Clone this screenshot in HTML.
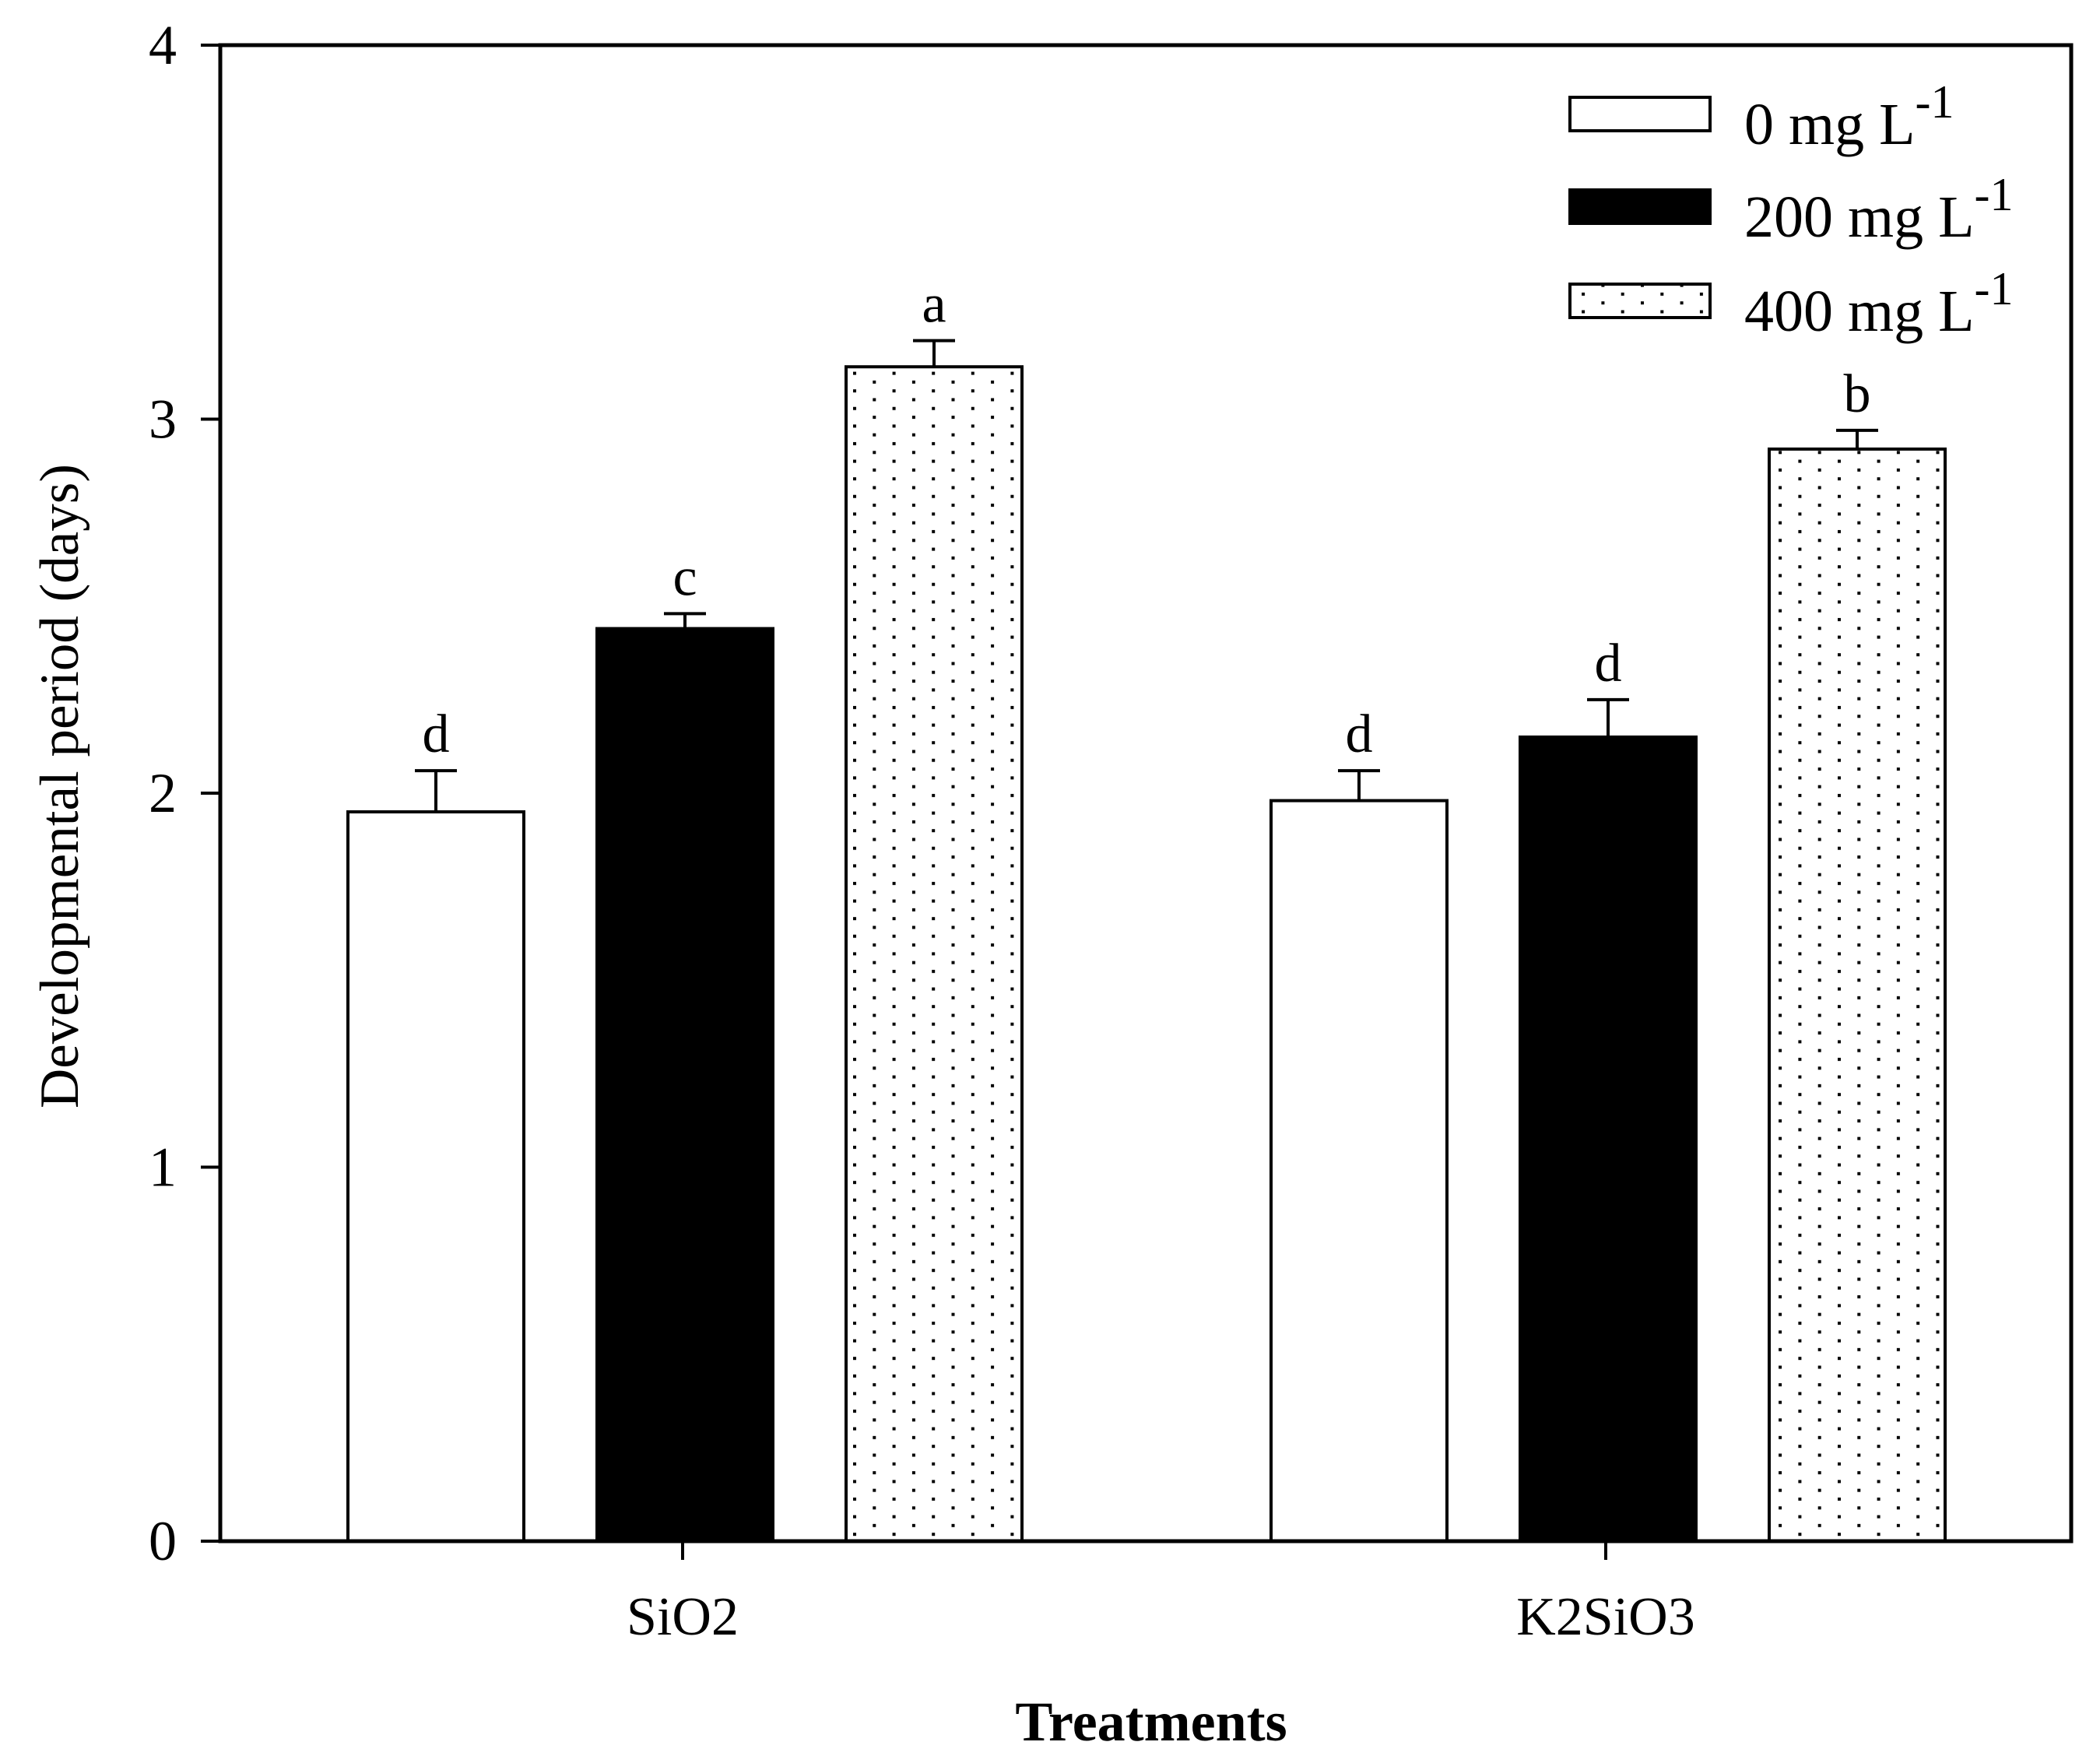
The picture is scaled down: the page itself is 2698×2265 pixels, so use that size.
<!DOCTYPE html>
<html><head><meta charset="utf-8">
<style>
html,body{margin:0;padding:0;background:#fff;}
svg{display:block;font-family:"Liberation Serif",serif;}
</style></head>
<body>
<svg id="chart" width="2698" height="2265" viewBox="0 0 2698 2265" xmlns="http://www.w3.org/2000/svg">
<defs>
<pattern id="dots" patternUnits="userSpaceOnUse" width="50.6" height="22.6" x="1096" y="0">
<rect x="0" y="0" width="50.6" height="22.6" fill="#fff"/>
<rect x="0" y="3" width="4" height="4" fill="#000"/>
<rect x="25.3" y="14.3" width="4" height="4" fill="#000"/>
</pattern>
</defs>
<g id="plot"></g>
</svg>
<script>
const categories = ["SiO2", "K2SiO3"];
const seriesNames = ["0 mg L", "200 mg L", "400 mg L"];
const values0 = [1.95, 1.98];
const values200 = [2.44, 2.15];
const values400 = [3.14, 2.92];
const err0 = [0.11, 0.08];
const err200 = [0.04, 0.10];
const err400 = [0.07, 0.05];
const letters0 = ["d", "d"];
const letters200 = ["c", "d"];
const letters400 = ["a", "b"];
const yTicks = [0, 1, 2, 3, 4];

const NS = "http://www.w3.org/2000/svg";
const g = document.getElementById("plot");
const L = 283, R = 2661, T = 58, B = 1980;
const yMin = 0, yMax = 4;
const groupCenters = [880, 2066];
const barW = 226, barStep = 320;
function y(v){ return B - (v - yMin) / (yMax - yMin) * (B - T); }
function xBar(gi, si){ return groupCenters[gi] + (si - 1) * barStep; }
function mk(tag, attrs, parent){
  const e = document.createElementNS(NS, tag);
  for (const k in attrs) e.setAttribute(k, attrs[k]);
  (parent || g).appendChild(e);
  return e;
}
const fills = ["#fff", "#000", "url(#dots)"];
const allVals = [values0, values200, values400];
const allErr = [err0, err200, err400];
const allLetters = [letters0, letters200, letters400];

for (let gi = 0; gi < categories.length; gi++) {
  for (let si = 0; si < 3; si++) {
    const v = allVals[si][gi], e = allErr[si][gi];
    const cx = xBar(gi, si);
    const bar = mk("rect", {x: cx - barW/2, y: y(v), width: barW, height: B - y(v), fill: fills[si], stroke: "#000", "stroke-width": 4});
    
    
    const eb = mk("path", {d: `M${cx},${y(v)} V${y(v+e)} M${cx-27},${y(v+e)} H${cx+27}`, stroke: "#000", "stroke-width": 4, fill: "none"});
    
    
    const lt = mk("text", {x: cx, y: y(v+e) - 24, "font-size": 70, "text-anchor": "middle"});
    lt.textContent = allLetters[si][gi];
    
    
  }
}

const frame = mk("rect", {x: L, y: T, width: R - L, height: B - T, fill: "none", stroke: "#000", "stroke-width": 5});



for (const t of yTicks) {
  const tk = mk("line", {x1: L - 25, x2: L, y1: y(t), y2: y(t), stroke: "#000", "stroke-width": 4});
  
  
  const lb = mk("text", {x: 209, y: y(t) + 24, "font-size": 72, "text-anchor": "middle"});
  lb.textContent = t;
  
  
}
for (let gi = 0; gi < categories.length; gi++) {
  const tk = mk("line", {x1: groupCenters[gi] - 3, x2: groupCenters[gi] - 3, y1: B, y2: B + 24, stroke: "#000", "stroke-width": 4});
  
  
  const lb = mk("text", {x: groupCenters[gi] - 3, y: 2100, "font-size": 70, "text-anchor": "middle"});
  lb.textContent = categories[gi];
  
  
}
const yt = mk("text", {x: 0, y: 0, "font-size": 71, "text-anchor": "middle", transform: "translate(100,1010) rotate(-90)"});
yt.textContent = "Developmental period (days)";


const xt = mk("text", {x: 1479, y: 2236, "font-size": 72, "font-weight": "bold", "text-anchor": "middle"});
xt.textContent = "Treatments";



const legY = [125, 244, 365];
for (let si = 0; si < 3; si++) {
  const sw = mk("rect", {x: 2017, y: legY[si], width: 180, height: 43, fill: fills[si], stroke: "#000", "stroke-width": 4});
  
  
  const tx = mk("text", {x: 2241, y: legY[si] + 60, "font-size": 76});
  
  
  tx.appendChild(document.createTextNode(seriesNames[si]));
  const sup = mk("tspan", {dy: -34, "font-size": 60}, tx);
  sup.textContent = "-1";
}
</script>
</body></html>
